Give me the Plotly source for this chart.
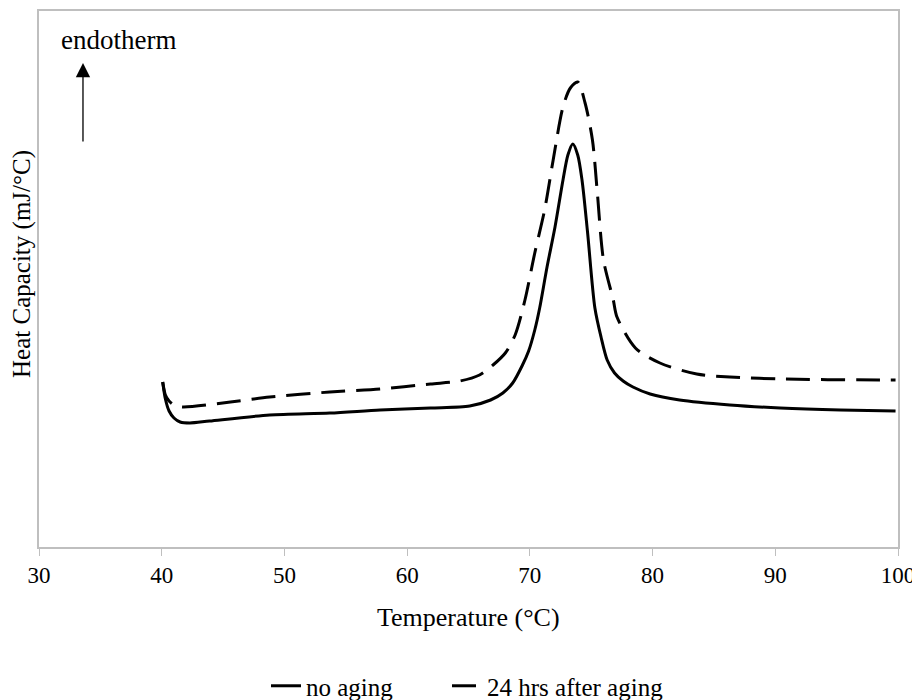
import plotly.graph_objects as go

# Temperature (°C) and heat capacity (arbitrary units)
temp_no_aging = [40.08, 40.3, 40.6, 41.0, 41.5, 42.3, 43.9, 48.8, 53.7, 57.8, 61.9, 65.1, 66.8,
                 67.8, 68.6, 69.4, 69.9, 70.4, 70.8, 71.4, 72.05, 72.7, 73.1, 73.5, 73.9, 74.25,
                 74.7, 75.3, 75.8, 76.3, 76.9, 77.6, 78.4, 79.8, 82.2, 86.3, 90.4, 95.3, 99.8]
cp_no_aging = [1.65, 1.48, 1.36, 1.29, 1.25, 1.24, 1.26, 1.32, 1.34, 1.37, 1.39, 1.41, 1.47,
               1.54, 1.64, 1.82, 1.96, 2.17, 2.39, 2.80, 3.20, 3.67, 3.92, 4.03, 3.92, 3.67,
               3.15, 2.39, 2.10, 1.87, 1.74, 1.66, 1.60, 1.53, 1.47, 1.42, 1.39, 1.37, 1.36]

temp_24h = [40.08, 40.3, 40.6, 41.0, 41.7, 45.6, 48.8, 53.7, 57.8, 61.9, 64.3, 65.9, 67.0,
            68.0, 68.8, 69.6, 70.4, 71.2, 71.9, 72.7, 73.3, 73.9, 74.5, 75.1, 75.5, 76.0,
            76.8, 77.1, 78.6, 80.6, 83.6, 86.3, 90.4, 98.5, 99.8]
cp_24h = [1.65, 1.52, 1.46, 1.42, 1.40, 1.45, 1.50, 1.55, 1.58, 1.63, 1.66, 1.72, 1.82,
          1.94, 2.12, 2.47, 2.94, 3.37, 3.87, 4.40, 4.59, 4.65, 4.44, 4.07, 3.54, 2.87,
          2.47, 2.30, 1.99, 1.84, 1.73, 1.70, 1.68, 1.67, 1.67]

x_ticks = [30, 40, 50, 60, 70, 80, 90, 100]

FONT = "Liberation Serif, Times New Roman, serif"
GRAY = "#bfbfbf"

fig = go.Figure()
fig.add_trace(go.Scatter(x=temp_no_aging, y=cp_no_aging, mode="lines", name="no aging",
                         legendwidth=136,
                         line=dict(color="black", width=3, shape="spline", smoothing=0.8)))
fig.add_trace(go.Scatter(x=temp_24h, y=cp_24h, mode="lines", name="24 hrs after aging",
                         legendwidth=190,
                         line=dict(color="black", width=3, dash="24px,11px",
                                   shape="spline", smoothing=0.8)))

# page body has an 8px default margin, so the figure is sized/offset to compensate
fig.update_layout(
    width=912, height=692,
    margin=dict(l=31, r=22, t=3, b=153, autoexpand=False),
    paper_bgcolor="white", plot_bgcolor="white",
    font=dict(family=FONT, size=25, color="black"),
    showlegend=True,
    legend=dict(orientation="h", xref="container", yref="container",
                x=0.2829, xanchor="left", y=0.0202, yanchor="middle",
                font=dict(family=FONT, size=25, color="black")),
    xaxis=dict(range=[30, 100], tickvals=x_ticks, ticktext=[str(v) for v in x_ticks],
               ticks="outside", ticklen=7, tickcolor=GRAY, showline=True, linecolor=GRAY,
               linewidth=1.5, mirror=True, showgrid=False, zeroline=False, automargin=False,
               tickfont=dict(family=FONT, size=23)),
    yaxis=dict(range=[0, 5.36], showticklabels=False, ticks="", showline=True, linecolor=GRAY,
               linewidth=1.5, mirror=True, showgrid=False, zeroline=False, automargin=False),
    annotations=[
        dict(text="Temperature (°C)", xref="paper", yref="paper", x=0.5, y=-0.1306,
             xanchor="center", yanchor="middle", showarrow=False, font=dict(size=26)),
        dict(text="Heat Capacity (mJ/°C)", xref="paper", yref="paper", x=-0.0198, y=0.528,
             xanchor="center", yanchor="middle", textangle=-90, showarrow=False,
             font=dict(size=25)),
        dict(text="endotherm", xref="paper", yref="paper", x=0.0233, y=0.946,
             xanchor="left", yanchor="middle", showarrow=False, font=dict(size=27)),
        dict(text="", xref="paper", yref="paper", x=0.0512, y=0.903, ax=0, ay=80,
             showarrow=True, arrowhead=2, arrowsize=2.2, arrowwidth=1.3, arrowcolor="black"),
    ],
)

fig.write_html("out.html")
